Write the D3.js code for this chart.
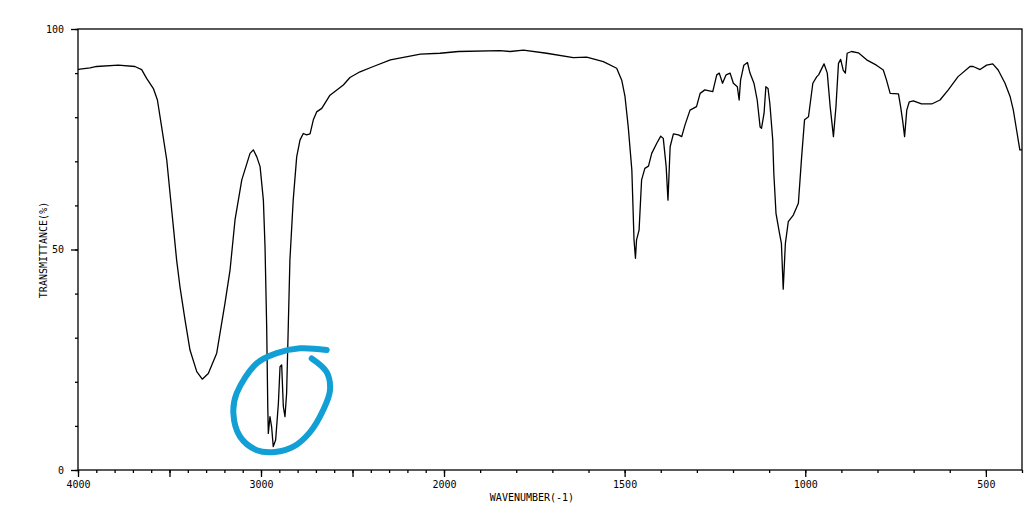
<!DOCTYPE html>
<html>
<head>
<meta charset="UTF-8">
<script src="https://d3js.org/d3.v7.min.js"></script>
<style>
  body { margin: 0; background: #fff; }
  .axis path, .axis line { stroke: #000; stroke-width: 1.3px; }
  .axis text, .title { font-family: "DejaVu Sans Mono", monospace; font-size: 10px; fill: #000; }
  .frame { fill: none; stroke: #000; stroke-width: 1.3px; }
  .spectrum { fill: none; stroke: #000; stroke-width: 1.3px; stroke-linejoin: round; }
  .mark { fill: none; stroke: #129fd6; stroke-width: 6px; stroke-linecap: round; }
</style>
</head>
<body>
<svg id="chart" width="1028" height="515"></svg>
<script>
// wavenumber (cm-1) and transmittance (%)
const wavenumbers = [4000, 3989, 3934, 3898, 3780, 3689, 3652, 3625, 3588, 3566, 3543, 3515, 3497, 3479, 3461,
  3443, 3415, 3388, 3351, 3321, 3288, 3242, 3197, 3169, 3142, 3105, 3060, 3042, 3023, 3005, 2987, 2978, 2969,
  2963, 2960, 2951, 2942, 2933, 2920, 2905, 2896, 2887, 2878, 2869, 2860, 2851, 2842, 2824, 2805, 2787, 2769,
  2751, 2732, 2714, 2696, 2668, 2623, 2550, 2514, 2459, 2386, 2293, 2129, 2022, 1960, 1845, 1817, 1780, 1716,
  1642, 1605, 1559, 1522, 1508, 1499, 1490, 1480, 1474, 1470, 1467, 1460, 1453, 1444, 1434, 1425, 1411, 1400,
  1393, 1385, 1380, 1374, 1365, 1351, 1342, 1333, 1319, 1301, 1291, 1278, 1256, 1245, 1238, 1229, 1219, 1208,
  1199, 1188, 1183, 1179, 1170, 1160, 1153, 1142, 1133, 1125, 1121, 1114, 1109, 1103, 1098, 1090, 1087, 1081,
  1072, 1066, 1061, 1055, 1047, 1033, 1019, 1010, 1002, 991, 979, 968, 963, 948, 939, 931, 922, 915, 908, 902,
  895, 889, 884, 872, 853, 830, 803, 784, 775, 765, 742, 736, 730, 725, 719, 712, 701, 678, 650, 627, 604, 577,
  544, 535, 516, 498, 481, 466, 447, 433, 424, 415, 406, 400];
const transmittance = [90.8, 90.9, 91.2, 91.5, 91.8, 91.5, 90.8, 88.8, 86.5, 83.9, 77.8, 70.3, 62.7, 55.2, 47.6,
  41.6, 34.0, 27.2, 22.3, 20.6, 21.9, 26.5, 37.8, 45.4, 56.7, 65.8, 71.8, 72.6, 71.0, 68.8, 61.2, 50.6, 32.5,
  14.4, 8.3, 12.1, 9.8, 5.3, 6.8, 15.1, 23.4, 23.8, 14.4, 12.1, 17.4, 32.5, 47.6, 61.2, 71.0, 74.8, 76.3,
  76.0, 76.2, 79.4, 81.2, 82.0, 85.0, 87.3, 89.0, 90.3, 91.5, 93.0, 94.3, 94.5, 94.9, 95.1, 94.9, 95.2, 94.5,
  93.5, 93.6, 92.6, 91.1, 88.4, 84.7, 77.8, 68.0, 52.2, 48.0, 52.2, 54.4, 65.8, 68.4, 68.9, 71.8, 74.1, 75.7,
  75.2, 68.8, 61.2, 73.3, 76.2, 76.0, 75.6, 78.2, 81.6, 82.4, 85.4, 86.2, 85.8, 89.6, 90.0, 87.7, 89.6, 90.0,
  87.7, 86.9, 83.9, 88.4, 91.8, 92.4, 90.0, 87.7, 83.9, 77.8, 77.5, 80.9, 86.9, 86.5, 83.1, 74.8, 67.3, 58.2,
  54.0, 51.4, 41.0, 51.4, 56.3, 57.8, 60.5, 71.0, 79.4, 80.1, 87.7, 89.2, 89.6, 92.1, 90.0, 82.4, 75.6, 82.4, 92.2, 93.1,
  90.7, 90.0, 94.5, 94.9, 94.6, 93.0, 91.8, 90.7, 88.4, 85.4, 85.3, 82.4, 79.0, 75.6, 81.6, 83.5, 83.7, 83.0, 83.0, 83.9, 86.2, 89.2,
  91.5, 91.5, 90.8, 91.8, 92.1, 90.7, 87.7, 84.7, 81.6, 77.1, 72.6, 72.6];

const majorX = [4000, 3500, 3000, 2500, 2000, 1500, 1000, 500];
const labelX = [4000, 3000, 2000, 1500, 1000, 500];
const majorY = [0, 50, 100];

// hand-drawn circle round the C-H stretch, in data units
const markWn = [2641, 2787, 2914, 3023, 3133, 3151, 3115, 3023, 2923, 2823, 2732, 2660, 2623, 2641, 2723];
const markT = [27.2, 27.6, 26.5, 24.2, 17.4, 12.9, 7.6, 4.5, 4.1, 5.3, 8.6, 13.6, 18.1, 22.2, 25.3];

const svg = d3.select("svg#chart");
const x = d3.scaleLinear().domain([4000, 2000, 400]).range([78, 444, 1022]);
const y = d3.scaleLinear().domain([0, 100]).range([470, 29]);

const minorX = d3.range(4000, 399, -100);
const minorY = d3.range(0, 101, 10);

svg.append("rect")
    .attr("class", "frame")
    .attr("x", x(4000)).attr("y", y(100))
    .attr("width", x(400) - x(4000)).attr("height", y(0) - y(100));

svg.append("g").attr("class", "axis")
    .attr("transform", `translate(0,${y(0)})`)
    .call(d3.axisBottom(x).tickValues(minorX).tickSize(3).tickSizeOuter(0).tickFormat(""));
svg.append("g").attr("class", "axis")
    .attr("transform", `translate(0,${y(0)})`)
    .call(d3.axisBottom(x).tickValues(majorX).tickSize(7).tickSizeOuter(0).tickPadding(4)
        .tickFormat(d => labelX.includes(d) ? d : ""));

svg.append("g").attr("class", "axis")
    .attr("transform", `translate(${x(4000)},0)`)
    .call(d3.axisLeft(y).tickValues(minorY).tickSize(3).tickSizeOuter(0).tickFormat(""));
svg.append("g").attr("class", "axis")
    .attr("transform", `translate(${x(4000)},0)`)
    .call(d3.axisLeft(y).tickValues(majorY).tickSize(7).tickSizeOuter(0).tickPadding(7));

svg.selectAll(".axis .domain").remove();

const line = d3.line().x(d => x(d[0])).y(d => y(d[1]));
svg.append("path")
    .attr("class", "spectrum")
    .attr("d", line(d3.zip(wavenumbers, transmittance)));

svg.append("text")
    .attr("class", "title")
    .attr("x", 532).attr("y", 501)
    .attr("text-anchor", "middle")
    .text("WAVENUMBER(-1)");
svg.append("text")
    .attr("class", "title")
    .attr("transform", "translate(47,250) rotate(-90)")
    .attr("text-anchor", "middle")
    .text("TRANSMITTANCE(%)");

svg.append("path")
    .attr("class", "mark")
    .attr("d", d3.line().x(d => x(d[0])).y(d => y(d[1])).curve(d3.curveCatmullRom)(d3.zip(markWn, markT)));
</script>
</body>
</html>
